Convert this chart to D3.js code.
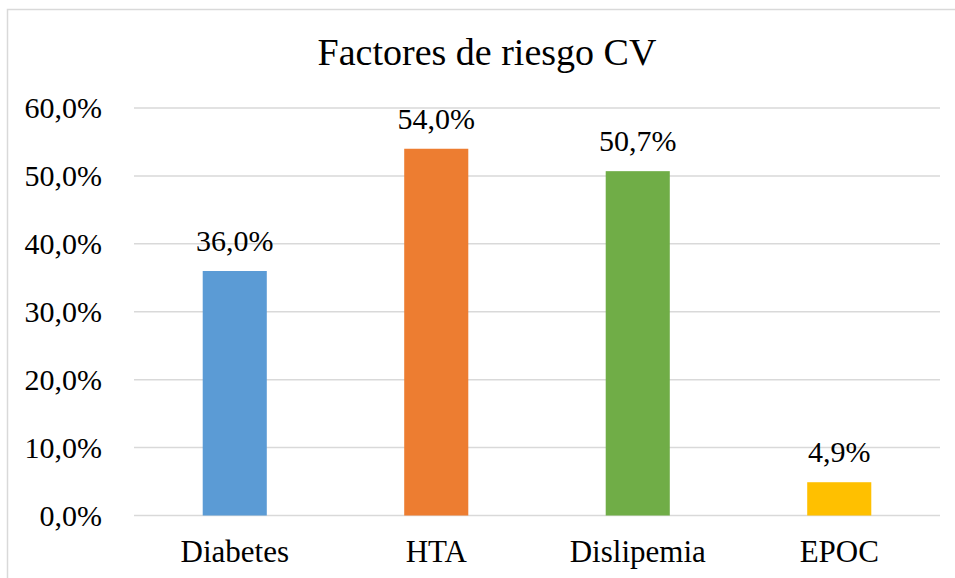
<!DOCTYPE html>
<html>
<head>
<meta charset="utf-8">
<script src="https://cdn.jsdelivr.net/npm/d3@7"></script>
<style>
  body { margin: 0; background: #fff; }
  svg { display: block; }
</style>
</head>
<body>
<script>
// data
const categories = ["Diabetes", "HTA", "Dislipemia", "EPOC"];
const values = [36.0, 54.0, 50.7, 4.9];
const barColors = ["#5B9BD5", "#ED7D31", "#70AD47", "#FFC000"];
const yTicks = [0, 10, 20, 30, 40, 50, 60];
const title = "Factores de riesgo CV";

const width = 955, height = 578;
const margin = {top: 108, right: 15, bottom: 62.5, left: 134};
const serif = "Liberation Serif";

const svg = d3.select("body").append("svg")
    .attr("width", width)
    .attr("height", height)
    .attr("font-family", serif);

// chart frame
svg.append("rect")
    .attr("x", 7.5).attr("y", 9.5)
    .attr("width", width + 20).attr("height", height + 20)
    .attr("fill", "none")
    .attr("stroke", "#d9d9d9")
    .attr("stroke-width", 1.5);

let x = d3.scaleBand()
    .domain(categories)
    .range([margin.left, width - margin.right])
    .paddingInner(0.682)
    .paddingOuter(0.341);

let y = d3.scaleLinear()
    .domain([0, 60])
    .range([height - margin.bottom, margin.top]);

let fmt = d => d.toFixed(1).replace(".", ",") + "%";

// gridlines
svg.append("g")
    .selectAll("line")
    .data(yTicks)
    .enter().append("line")
    .attr("x1", margin.left)
    .attr("x2", width - margin.right)
    .attr("y1", d => y(d))
    .attr("y2", d => y(d))
    .attr("stroke", "#d9d9d9")
    .attr("stroke-width", 1.5);

// y axis labels
let yAxis = svg.append("g")
    .attr("transform", "translate(" + (margin.left - 32) + ",0)")
    .call(d3.axisLeft(y).tickValues(yTicks).tickFormat(fmt).tickSize(0).tickPadding(0))
    .attr("font-family", serif)
    .attr("font-size", 30);
yAxis.select(".domain").remove();
yAxis.selectAll("text").attr("fill", "#000");

// x axis labels
let xAxis = svg.append("g")
    .attr("transform", "translate(0," + (height - margin.bottom) + ")")
    .call(d3.axisBottom(x).tickSize(0).tickPadding(24))
    .attr("font-family", serif)
    .attr("font-size", 31);
xAxis.select(".domain").remove();
xAxis.selectAll("text").attr("fill", "#000");

// bars
svg.append("g")
    .selectAll("rect")
    .data(values)
    .enter().append("rect")
    .attr("x", (d, i) => x(categories[i]))
    .attr("width", x.bandwidth())
    .attr("y", d => y(d))
    .attr("height", d => y(0) - y(d))
    .attr("fill", (d, i) => barColors[i]);

// value labels
svg.append("g")
    .attr("font-family", serif)
    .attr("font-size", 30)
    .selectAll("text")
    .data(values)
    .enter().append("text")
    .attr("x", (d, i) => x(categories[i]) + x.bandwidth() / 2)
    .attr("y", d => y(d) - 20)
    .attr("text-anchor", "middle")
    .text(fmt);

// title
svg.append("text")
    .attr("x", 487)
    .attr("y", 65)
    .attr("text-anchor", "middle")
    .attr("font-size", 38)
    .text(title);
</script>
</body>
</html>
